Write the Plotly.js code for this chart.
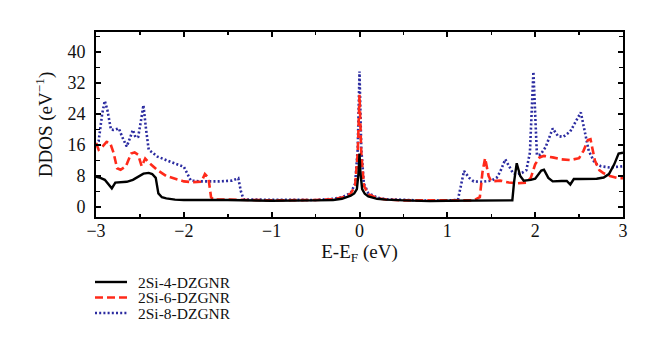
<!DOCTYPE html>
<html>
<head>
<meta charset="utf-8">
<script src="https://cdn.plot.ly/plotly-3.0.1.min.js"></script>
<style>html,body{margin:0;padding:0;background:#fff;}#chart{width:660px;height:351px;}</style>
</head>
<body>
<div id="chart"></div>
<script>
const seriesNames = ["2Si-4-DZGNR", "2Si-6-DZGNR", "2Si-8-DZGNR"];

const x4 = [-3, -2.95, -2.9, -2.85, -2.82, -2.78, -2.72, -2.65, -2.58, -2.52, -2.46, -2.40, -2.36, -2.32, -2.29, -2.25, -2.2, -2.1, -2.0, -1.5, -1.0, -0.5, -0.3, -0.2, -0.1, -0.06, -0.03, -0.01, 0, 0.01, 0.03, 0.06, 0.1, 0.2, 0.3, 0.5, 0.8, 1.0, 1.3, 1.5, 1.74, 1.76, 1.79, 1.83, 1.87, 1.95, 2.0, 2.07, 2.1, 2.15, 2.2, 2.3, 2.36, 2.4, 2.44, 2.5, 2.6, 2.7, 2.78, 2.84, 2.9, 2.95, 3.0];
const y4 = [7.8, 7.5, 7, 5.6, 4.8, 6.3, 6.4, 6.5, 7.0, 7.8, 8.6, 8.8, 8.5, 7.5, 3.5, 2.5, 2.2, 1.9, 1.8, 1.8, 1.6, 1.7, 1.8, 2.1, 2.9, 3.5, 4.6, 9, 13.8, 9, 4.6, 3.4, 2.7, 2.1, 1.9, 1.7, 1.5, 1.6, 1.6, 1.6, 1.7, 6.5, 11.3, 8, 6.8, 7.0, 7.3, 9.4, 9.6, 7.5, 6.6, 6.7, 6.7, 5.8, 7.2, 7.2, 7.2, 7.3, 7.6, 8.5, 11, 13.8, 14];

const x6 = [-3, -2.97, -2.93, -2.88, -2.84, -2.8, -2.76, -2.72, -2.66, -2.6, -2.56, -2.52, -2.48, -2.44, -2.4, -2.3, -2.2, -2.1, -2.0, -1.9, -1.8, -1.76, -1.72, -1.69, -1.66, -1.5, -1.0, -0.5, -0.3, -0.2, -0.1, -0.05, -0.02, 0, 0.02, 0.05, 0.1, 0.2, 0.3, 0.5, 0.8, 1.0, 1.3, 1.37, 1.40, 1.43, 1.47, 1.5, 1.6, 1.7, 1.8, 1.9, 1.95, 2.0, 2.05, 2.1, 2.2, 2.3, 2.4, 2.5, 2.55, 2.6, 2.63, 2.68, 2.73, 2.78, 2.85, 2.95, 3.0];
const y6 = [16.5, 14.8, 15.5, 16.8, 16.6, 14, 10, 9.6, 10.5, 13.8, 14.1, 13.5, 10.5, 12.5, 11.5, 9.5, 8, 7.2, 6.6, 6.4, 6.5, 8.5, 7.5, 2.5, 1.9, 1.9, 1.7, 1.8, 2.0, 2.4, 3.4, 5.5, 14, 29, 14, 5.5, 3.3, 2.3, 1.9, 1.7, 1.6, 1.7, 1.7, 2.5, 9, 12.6, 8, 6.6, 6.8, 6.3, 6.1, 6.3, 7.5, 11, 12.8, 13.2, 12.8, 12.3, 12.1, 12.6, 14.5, 17.3, 17.5, 12, 9.5, 8.7, 8.0, 7.4, 7.4];

const x8 = [-3, -2.97, -2.93, -2.9, -2.87, -2.83, -2.8, -2.74, -2.7, -2.65, -2.61, -2.58, -2.55, -2.52, -2.49, -2.46, -2.43, -2.4, -2.3, -2.2, -2.1, -2.0, -1.96, -1.92, -1.8, -1.6, -1.45, -1.38, -1.35, -1.32, -1.28, -1.0, -0.5, -0.3, -0.2, -0.1, -0.05, -0.02, 0, 0.02, 0.05, 0.1, 0.2, 0.3, 0.5, 0.8, 1.0, 1.12, 1.15, 1.19, 1.25, 1.3, 1.4, 1.5, 1.56, 1.6, 1.66, 1.7, 1.75, 1.8, 1.85, 1.9, 1.94, 1.98, 2.02, 2.06, 2.12, 2.2, 2.26, 2.32, 2.4, 2.46, 2.52, 2.56, 2.61, 2.68, 2.75, 2.85, 3.0];
const y8 = [16, 17, 24, 27.4, 25, 20, 19.9, 20.3, 18, 15.6, 18, 19.9, 18, 18.1, 22, 26.3, 20, 14.8, 13, 12, 11.2, 10.4, 8.5, 6.8, 6.6, 6.6, 6.8, 7.4, 4, 2, 1.9, 1.8, 1.8, 2.1, 2.5, 3.6, 6, 15, 35, 15, 6, 3.6, 2.4, 2.0, 1.8, 1.6, 1.7, 1.8, 5, 9.3, 7.5, 6.6, 6.5, 6.8, 7.5, 9, 12.3, 10.5, 8.6, 8.5, 8.8, 9.5, 14, 34.9, 13.4, 13.5, 15.5, 20.3, 18.3, 18.1, 19.5, 22, 24.4, 20, 14.5, 11.3, 10.5, 10.2, 10.5];

const xTickVals = [-3, -2, -1, 0, 1, 2, 3];
const xTickText = ["\u22123", "\u22122", "\u22121", "0", "1", "2", "3"];
const yTickVals = [0, 8, 16, 24, 32, 40];

const FONT = "Liberation Serif, Times New Roman, serif";
const W = 660, H = 351;
const M = {l: 96, r: 37, t: 32, b: 134};
const plotW = W - M.l - M.r, plotH = H - M.t - M.b;

const lineStyles = [
  {color: "#000000", width: 2.4},
  {color: "#ff2a1a", width: 2.6, dash: "8px,4px"},
  {color: "#2b2ba0", width: 2.6, dash: "2px,2.2px"}
];
const seriesX = [x4, x6, x8];
const seriesY = [y4, y6, y8];

// traces drawn blue first, black on top
const traces = [2, 1, 0].map(i => ({
  x: seriesX[i], y: seriesY[i], name: seriesNames[i], mode: "lines",
  line: lineStyles[i], showlegend: false
}));

// compact legend below the plot (positions in pixels, converted to paper coords)
const legendRowsPx = [282, 297.5, 313];
const px2x = px => (px - M.l) / plotW;
const py2y = py => (H - M.b - py) / plotH;
const shapes = [], annotations = [];
seriesNames.forEach((name, i) => {
  const yp = py2y(legendRowsPx[i]);
  shapes.push({type: "line", xref: "paper", yref: "paper", x0: px2x(95), x1: px2x(127), y0: yp, y1: yp,
    line: Object.assign({}, lineStyles[i])});
  annotations.push({xref: "paper", yref: "paper", x: px2x(137), y: yp, xanchor: "left", yanchor: "middle",
    text: name, showarrow: false, height: 15, valign: "middle", borderpad: 0,
    font: {family: FONT, size: 15.5, color: "#111"}});
});

const layout = {
  width: W, height: H,
  margin: {l: M.l, r: M.r, t: M.t, b: M.b, autoexpand: false},
  paper_bgcolor: "#ffffff", plot_bgcolor: "#ffffff",
  font: {family: FONT, size: 18, color: "#111"},
  showlegend: false,
  shapes: shapes,
  annotations: annotations,
  xaxis: {
    range: [-3, 3], tickmode: "array", tickvals: xTickVals, ticktext: xTickText,
    ticks: "inside", ticklen: 5, tickwidth: 2, tickcolor: "#000",
    minor: {dtick: 0.5, ticks: "inside", ticklen: 3, tickwidth: 1.5, tickcolor: "#000", showgrid: false},
    showline: true, linewidth: 2, linecolor: "#000", mirror: "allticks",
    showgrid: false, zeroline: false,
    ticklabelstandoff: -4,
    tickfont: {family: FONT, size: 18, color: "#111"},
    title: {text: "E-E<sub>F</sub> (eV)", font: {family: FONT, size: 19, color: "#111"}, standoff: 0}
  },
  yaxis: {
    range: [-2.6, 45.2], tickmode: "array", tickvals: yTickVals,
    ticks: "inside", ticklen: 5, tickwidth: 2, tickcolor: "#000",
    minor: {dtick: 4, tick0: 0, ticks: "inside", ticklen: 4, tickwidth: 1.5, tickcolor: "#000", showgrid: false},
    showline: true, linewidth: 2, linecolor: "#000", mirror: "allticks",
    showgrid: false, zeroline: false,
    ticklabelstandoff: 5,
    tickfont: {family: FONT, size: 18, color: "#111"},
    title: {text: "DDOS (eV<sup>\u22121</sup>)", font: {family: FONT, size: 19, color: "#111"}, standoff: 10}
  }
};

Plotly.newPlot("chart", traces, layout, {displayModeBar: false, staticPlot: true});
</script>
</body>
</html>
